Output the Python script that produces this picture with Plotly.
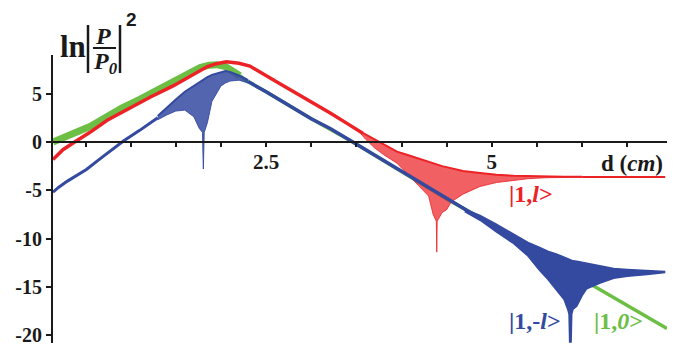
import plotly.graph_objects as go

# ---------------- data ----------------
# |1,l>  (red)
red_d = [0.14, 0.25, 0.38, 0.55, 0.74, 1.1, 1.22, 1.47, 1.66, 1.85, 1.95, 2.06, 2.2, 2.32, 2.62, 3.0, 3.21, 3.4, 3.57]
red_y = [-1.8, -0.8, 0.0, 1.0, 2.25, 4.1, 4.65, 5.8, 6.8, 7.8, 8.1, 8.3, 8.15, 7.85, 6.2, 4.2, 3.0, 1.9, 0.9]
red_band_d = [3.55, 3.6, 3.7, 3.8, 3.95, 4.05, 4.13, 4.2, 4.3, 4.35, 4.385, 4.39, 4.395, 4.42, 4.45, 4.5, 4.55, 4.68, 4.87, 5.05, 5.24, 5.4, 5.6, 5.8, 6.0]
red_band_hi = [1.05, 0.8, 0.3, -0.2, -1.0, -1.3, -1.55, -1.75, -2.1, -2.25, -2.35, -2.35, -2.35, -2.4, -2.5, -2.6, -2.7, -3.0, -3.2, -3.4, -3.5, -3.55, -3.58, -3.6, -3.6]
red_band_lo = [0.85, 0.3, -0.6, -1.3, -2.2, -3.2, -4.0, -4.6, -5.6, -7.5, -8.2, -11.4, -8.2, -7.8, -7.3, -7.0, -6.2, -5.4, -4.6, -4.2, -3.95, -3.8, -3.7, -3.66, -3.64]
red_tail_d = [6.0, 6.92]
red_tail_y = [-3.62, -3.62]

# |1,-l>  (blue)
blue_d = [0.14, 0.2, 0.3, 0.4, 0.51, 0.66, 0.8, 0.92, 1.1, 1.22, 1.3]
blue_y = [-5.2, -4.7, -4.05, -3.45, -2.85, -1.75, -0.75, 0.1, 1.2, 2.0, 2.5]
blue_osc_d = [1.3, 1.4, 1.5, 1.6, 1.7, 1.76, 1.795, 1.805, 1.815, 1.85, 1.9, 2.0, 2.05, 2.1, 2.2, 2.3]
blue_osc_hi = [2.7, 3.6, 4.4, 5.2, 5.8, 6.2, 6.45, 6.5, 6.55, 6.7, 6.95, 7.25, 7.35, 7.25, 6.9, 6.4]
blue_osc_lo = [2.3, 2.8, 3.2, 3.3, 2.6, 1.4, 1.0, -2.8, 1.0, 2.0, 4.2, 5.8, 6.1, 6.3, 6.4, 6.1]
blue_fall_d = [2.3, 2.5, 3.0, 3.21, 3.46, 4.0, 4.5, 4.8]
blue_fall_y = [6.25, 5.2, 2.4, 1.4, 0.0, -3.05, -5.9, -7.5]
blue_tail_d = [4.7, 4.87, 5.05, 5.24, 5.4, 5.53, 5.62, 5.72, 5.8, 5.84, 5.855, 5.862, 5.878, 5.885, 5.9, 5.94, 6.0, 6.05, 6.12, 6.2, 6.35, 6.5, 6.72, 6.92]
blue_tail_hi = [-6.95, -7.6, -8.5, -9.5, -10.4, -10.9, -11.3, -11.6, -11.9, -12.0, -12.1, -12.15, -12.2, -12.25, -12.3, -12.35, -12.45, -12.6, -12.7, -12.85, -13.1, -13.2, -13.3, -13.4]
blue_tail_lo = [-7.2, -8.1, -9.3, -10.5, -11.8, -13.3, -14.2, -15.3, -16.3, -17.3, -17.8, -20.7, -20.7, -17.8, -17.3, -17.0, -15.9, -15.2, -14.9, -14.6, -14.1, -13.9, -13.7, -13.5]

# |1,0>  (green)
green_d = [0.14, 0.2, 0.37, 0.55, 0.74, 0.9, 1.1, 1.22, 1.47, 1.58, 1.66, 1.77, 1.87, 1.95, 2.05, 2.14, 2.21]
green_y = [0.0, 0.2, 0.9, 1.6, 2.7, 3.5, 4.4, 5.0, 6.2, 6.8, 7.2, 7.7, 7.95, 8.0, 7.8, 7.35, 6.85]
green_fall_d = [2.21, 2.3, 2.5, 3.0, 3.46, 4.0, 4.5, 4.87, 5.5, 6.1, 6.5, 6.94]
green_fall_y = [6.85, 6.25, 5.2, 2.4, 0.0, -3.05, -5.9, -7.85, -11.3, -14.75, -16.9, -19.3]

x_label_vals = [2.5, 5.0]
x_label_text = ["2.5", "5"]
x_minor_vals = [0.5, 1.0, 1.5, 2.0, 3.0, 3.5, 4.0, 4.5, 5.5, 6.0, 6.5]
y_tick_vals = [-20, -15, -10, -5, 0, 5]
y_tick_text = ["-20", "-15", "-10", "-5", "0", "5"]

# ---------------- style ----------------
RED = "rgb(236,34,38)"
BLUE = "rgb(52,74,160)"
GREEN = "rgb(108,190,68)"
SERIF = "Liberation Serif"
OFF = 8                      # page body margin
W, H = 688 - OFF, 350 - OFF
PL, PT, PW, PH = 53, 55, 614, 288   # plot area on screen
L, T = PL - OFF, PT - OFF
R, B = W - L - PW, H - T - PH
X_RANGE = [0.14, 6.94]
Y_RANGE = [-20.8, 9.0]


def px(x):
    return (x - PL) / PW


def py(y):
    return (PT + PH - y) / PH


fig = go.Figure()

# green
fig.add_trace(go.Scatter(x=green_fall_d, y=green_fall_y, mode="lines",
                         line=dict(color=GREEN, width=3.5), hoverinfo="skip"))
fig.add_trace(go.Scatter(x=green_d, y=green_y, mode="lines",
                         line=dict(color=GREEN, width=7), hoverinfo="skip"))

# red
fig.add_trace(go.Scatter(x=red_d, y=red_y, mode="lines",
                         line=dict(color=RED, width=3.5), hoverinfo="skip"))
fig.add_trace(go.Scatter(x=red_band_d, y=red_band_hi, mode="lines",
                         line=dict(color=RED, width=2), hoverinfo="skip"))
fig.add_trace(go.Scatter(x=red_band_d, y=red_band_lo, mode="lines",
                         line=dict(color="rgba(236,34,38,0.8)", width=1),
                         fill="tonexty", fillcolor="rgba(236,34,38,0.72)", hoverinfo="skip"))
fig.add_trace(go.Scatter(x=red_tail_d, y=red_tail_y, mode="lines",
                         line=dict(color=RED, width=2), hoverinfo="skip"))

# blue
fig.add_trace(go.Scatter(x=blue_d, y=blue_y, mode="lines",
                         line=dict(color=BLUE, width=3), hoverinfo="skip"))
fig.add_trace(go.Scatter(x=blue_osc_d, y=blue_osc_hi, mode="lines",
                         line=dict(color=BLUE, width=2), hoverinfo="skip"))
fig.add_trace(go.Scatter(x=blue_osc_d, y=blue_osc_lo, mode="lines",
                         line=dict(color="rgba(52,74,160,0.9)", width=1),
                         fill="tonexty", fillcolor="rgba(52,74,160,0.85)", hoverinfo="skip"))
fig.add_trace(go.Scatter(x=blue_fall_d, y=blue_fall_y, mode="lines",
                         line=dict(color=BLUE, width=3.5), hoverinfo="skip"))
fig.add_trace(go.Scatter(x=blue_tail_d, y=blue_tail_hi, mode="lines",
                         line=dict(color=BLUE, width=1.5), hoverinfo="skip"))
fig.add_trace(go.Scatter(x=blue_tail_d, y=blue_tail_lo, mode="lines",
                         line=dict(color=BLUE, width=1.5),
                         fill="tonexty", fillcolor=BLUE, hoverinfo="skip"))

fig.update_layout(
    width=W, height=H,
    margin=dict(l=L, r=R, t=T, b=B, pad=0, autoexpand=False),
    paper_bgcolor="white", plot_bgcolor="white",
    showlegend=False,
    xaxis=dict(range=X_RANGE, showgrid=False, zeroline=False,
               showline=True, linecolor="#1a1a1a", linewidth=2,
               anchor="free", position=(0 - Y_RANGE[0]) / (Y_RANGE[1] - Y_RANGE[0]),
               ticks="outside", ticklen=4, tickwidth=1.5, tickcolor="#1a1a1a",
               tickvals=x_label_vals, ticktext=[f"<b>{t}</b>" for t in x_label_text],
               tickfont=dict(family=SERIF, size=21, color="#1a1a1a"), ticklabelstandoff=-3,
               minor=dict(tickvals=x_minor_vals, ticks="outside", ticklen=4,
                          tickwidth=1.5, tickcolor="#1a1a1a", showgrid=False)),
    yaxis=dict(range=Y_RANGE, showgrid=False, zeroline=False,
               showline=True, linecolor="#1a1a1a", linewidth=2,
               ticks="outside", ticklen=5, tickwidth=2, tickcolor="#1a1a1a",
               tickvals=y_tick_vals, ticktext=[f"<b>{t}</b>" for t in y_tick_text],
               tickfont=dict(family=SERIF, size=20, color="#1a1a1a")),
)


def ann(text, x, y, size, color="#1a1a1a", family=SERIF):
    fig.add_annotation(text=text, x=px(x), y=py(y), xref="paper", yref="paper",
                       showarrow=False, xanchor="center", yanchor="middle",
                       font=dict(family=family, size=size, color=color))


# y-axis title  ln|P/P0|^2
ann("<b>ln</b>", 72.5, 46, 31)
ann("<b><i>P</i></b>", 103, 35.5, 24)
ann("<b><i>P</i><sub><i>0</i></sub></b>", 105, 63.5, 24)
ann("<b>2</b>", 131, 19, 19, family="Liberation Sans")
for bx in (88, 120):
    fig.add_shape(type="line", xref="paper", yref="paper",
                  x0=px(bx), x1=px(bx), y0=py(25), y1=py(73),
                  line=dict(color="#1a1a1a", width=2.5))
fig.add_shape(type="line", xref="paper", yref="paper",
              x0=px(93), x1=px(116), y0=py(48), y1=py(48),
              line=dict(color="#1a1a1a", width=2))

# x-axis title
ann("<b>d (<i>cm</i>)</b>", 632, 163, 23)

# curve labels
ann("<b>|1,<i>l</i>&gt;</b>", 531, 194, 24, RED)
ann("<b>|1,-<i>l</i>&gt;</b>", 535, 321, 24, BLUE)
ann("<b>|1,<i>0</i>&gt;</b>", 618, 321, 24, GREEN)

fig.write_html("out.html")
